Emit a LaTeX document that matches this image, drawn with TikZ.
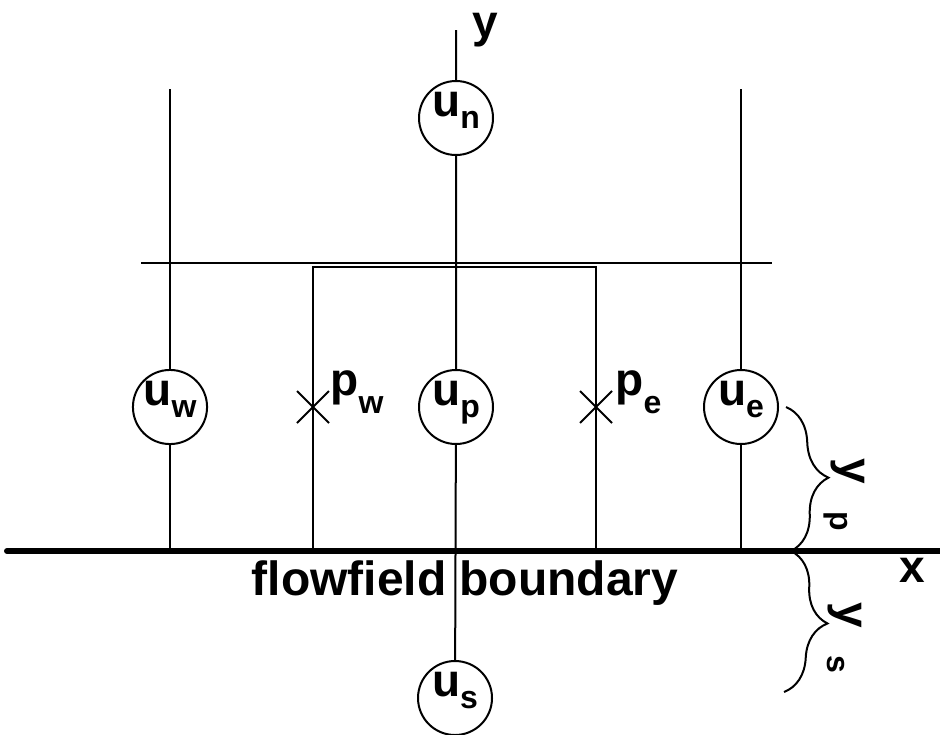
\documentclass[tikz,border=0pt]{standalone}
\usepackage{fontspec}
\setmainfont{Liberation Sans}
\usetikzlibrary{shapes.misc,decorations.pathreplacing}
\tikzset{
  ucirc/.style ={draw,circle,line width=1pt,minimum size=37pt,inner sep=0pt,
                 text height=12pt,text depth=14pt,font=\fontsize{23}{23}\selectfont\bfseries},
  pcross/.style={draw,cross out,line width=1pt,minimum size=15pt,inner sep=0pt},
  cell/.style  ={line width=1pt},
  wall/.style  ={line width=3pt},
  lbl/.style   ={font=\fontsize{23}{23}\selectfont\bfseries,inner sep=0pt},
  brc/.style   ={decorate,decoration={brace,amplitude=20pt},line width=1pt},
}
\newcommand{\sbs}[2][-6pt]{\raisebox{#1}{\fontsize{16}{16}\selectfont #2}}

\begin{document}
\begin{tikzpicture}[x=0.5pt,y=-0.5pt]
  \useasboundingbox (0,0) rectangle (940,734);
  % velocity nodes
  \node[ucirc] (un) at (456,118) {u\sbs{n}};
  \node[ucirc] (uw) at (170,407) {u\sbs{w}};
  \node[ucirc] (up) at (456,407) {u\sbs{p}};
  \node[ucirc] (ue) at (741,407) {u\sbs{e}};
  \node[ucirc] (us) at (455,698) {u\sbs{s}};
  % pressure nodes
  \node[pcross] (pw) at (313,407) {};
  \node[pcross] (pe) at (596,407) {};
  \node[lbl,anchor=base west] (pwl) at (330,395) {p\sbs[-9pt]{w}};
  \node[lbl,anchor=base west] (pel) at (615,395) {p\sbs[-9pt]{e}};
  % end points of the lines
  \coordinate (ytop) at (456,30);
  \coordinate (wtop) at (170,89);
  \coordinate (etop) at (741,89);
  \coordinate (wbot) at (170,551);
  \coordinate (ebot) at (741,551);
  \coordinate (axl) at (7,551);
  \coordinate (axr) at (940,551);
  \coordinate (topl) at (141,263);
  \coordinate (topr) at (772,263);
  \coordinate (cvl) at (313,551);
  \coordinate (cvr) at (596,551);
  % grid lines
  \draw[cell] (ytop) -- (un) -- (up) -- (us);
  \draw[cell] (wtop) -- (uw) -- (wbot);
  \draw[cell] (etop) -- (ue) -- (ebot);
  \draw[cell] (topl) -- (topr);
  \draw[cell] (cvl) |- (456,267) -| (cvr);
  \draw[wall,line cap=round] (axl) -- (axr);
  % axis labels
  \node[lbl,anchor=base] (ylab) at (485,37) {y};
  \node[lbl,anchor=base] (xlab) at (912,582) {x};
  \node[lbl,anchor=base,font=\fontsize{24}{24}\selectfont\bfseries] (bnd) at (465,595) {flowfield boundary};
  % wall distances
  \coordinate (b1) at (786,407);
  \coordinate (b2) at (791,551);
  \coordinate (b3) at (784,692);
  \draw[brc] (b1) -- (b2);
  \draw[brc] (b2) -- (b3);
  \node[lbl,rotate=-90,anchor=base west] (yp) at (840,458) {y\hspace{14pt}\sbs[-5pt]{p}};
  \node[lbl,rotate=-90,anchor=base west] (ys) at (837,602) {y\hspace{14pt}\sbs[-5pt]{s}};
\end{tikzpicture}
\end{document}
